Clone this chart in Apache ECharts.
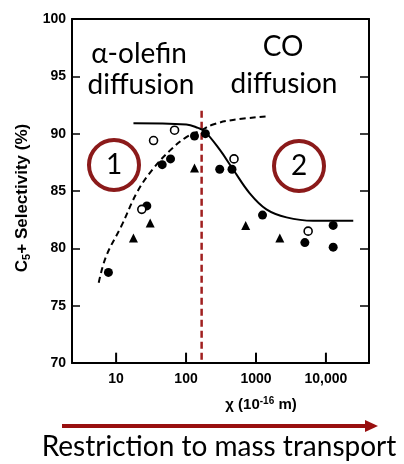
<!DOCTYPE html>
<html>
<head>
<meta charset="utf-8">
<script src="https://cdn.jsdelivr.net/npm/echarts@6/dist/echarts.min.js"></script>
<style>
  html, body { margin: 0; padding: 0; background: #fff; }
  #chart { width: 404px; height: 464px; }
</style>
</head>
<body>
<div id="chart"></div>
<script>
// C5+ selectivity versus the diffusion parameter chi (10^-16 m)
const filledPoints = [
  [7.76, 77.9], [27.5, 83.7], [45.6, 87.3], [60.0, 87.8], [132, 89.8], [189, 90.0],
  [303, 86.9], [454, 86.9], [1240, 82.9], [5000, 80.5], [12700, 82.0], [12700, 80.1]
];
const openPoints = [
  [23.3, 83.4], [34.3, 89.4], [68.5, 90.3], [485, 87.8], [5570, 81.5]
];
const trianglePoints = [
  [17.7, 80.9], [30.7, 82.2], [132, 87.0], [713, 82.0], [2190, 80.9]
];
// alpha-olefin diffusion trend (dashed)
const olefinCurve = [
  [5.64, 77.0], [7.19, 79.3], [11.8, 81.9], [20.4, 85.0], [33.5, 86.9], [58.1, 88.5],
  [101, 89.7], [165, 90.3], [243, 90.8], [469, 91.2], [1410, 91.5]
];
// CO diffusion trend (solid)
const coCurve = [
  [17.7, 90.9], [101, 90.8], [148, 90.5], [185, 90.2], [303, 88.6], [469, 86.9],
  [814, 84.8], [1410, 83.4], [2730, 82.7], [6580, 82.4], [24600, 82.4]
];
// regime boundary
const boundary = [[167, 92], [167, 70]];
const xTickValues = [10, 100, 1000, 10000];
const xTickLabels = { 10: '10', 100: '100', 1000: '1000', 10000: '10,000' };
const yMin = 70;
const tickReach = 0.9; // decade tick height, in axis units

const chart = echarts.init(document.getElementById('chart'), null, { renderer: 'canvas' });
const red = '#a01f1f';
const ring = '#8b1a1a';
const labelFont = 'Liberation Sans, Arial, sans-serif';
const textFont = 'Lato, Noto Sans, sans-serif';

// short vertical segments marking each decade on the bottom axis
const decadeTickSeries = xTickValues.map(v => ({
  type: 'line', data: [[v, yMin], [v, yMin + tickReach]], symbol: 'none', silent: true, z: 3,
  lineStyle: { color: '#000', width: 2 }
}));

chart.setOption({
  animation: false,
  grid: { left: 72, right: 35, top: 19, bottom: 101 },
  xAxis: [{
    type: 'log', logBase: 10, min: 2.34, max: 41300,
    axisLine: { lineStyle: { color: '#000', width: 2 } },
    axisTick: { show: false },
    axisLabel: {
      showMinLabel: false, showMaxLabel: false, margin: 9,
      color: '#000', fontFamily: labelFont, fontWeight: 'bold', fontSize: 14,
      formatter: v => xTickLabels[Math.round(v)] || ''
    },
    splitLine: { show: false }
  }, {
    type: 'log', logBase: 10, min: 2.34, max: 41300, position: 'top',
    axisLine: { lineStyle: { color: '#000', width: 2 } },
    axisTick: { show: false }, axisLabel: { show: false }, splitLine: { show: false }
  }],
  yAxis: [{
    type: 'value', min: yMin, max: 100, interval: 5,
    axisLine: { show: true, lineStyle: { color: '#000', width: 2 } },
    axisTick: { show: true, inside: true, length: 8, lineStyle: { color: '#000', width: 1.5 } },
    axisLabel: { color: '#000', fontFamily: labelFont, fontWeight: 'bold', fontSize: 14, margin: 6 },
    splitLine: { show: false }
  }, {
    type: 'value', min: yMin, max: 100, interval: 5, position: 'right',
    axisLine: { show: true, lineStyle: { color: '#000', width: 2 } },
    axisTick: { show: true, inside: true, length: 9, lineStyle: { color: '#000', width: 1.5 } },
    axisLabel: { show: false }, splitLine: { show: false }
  }],
  series: [
    {
      type: 'line', data: boundary, symbol: 'none', z: 1,
      lineStyle: { color: red, width: 2.5, type: [7, 4] }
    },
    {
      type: 'line', data: olefinCurve, smooth: 0.4, symbol: 'none',
      lineStyle: { color: '#000', width: 2, type: [6, 4] }
    },
    {
      type: 'line', data: coCurve, smooth: 0.4, symbol: 'none',
      lineStyle: { color: '#000', width: 2 }
    },
    {
      type: 'scatter', data: filledPoints, symbol: 'circle', symbolSize: 9,
      itemStyle: { color: '#000', opacity: 1 }
    },
    {
      type: 'scatter', data: openPoints, symbol: 'circle', symbolSize: 8,
      itemStyle: { color: '#fff', borderColor: '#000', borderWidth: 1.6, opacity: 1 }
    },
    {
      type: 'scatter', data: trianglePoints, symbol: 'triangle', symbolSize: 9,
      itemStyle: { color: '#000', opacity: 1 }
    }
  ].concat(decadeTickSeries),
  graphic: [
    // regime titles
    { type: 'text', x: 139, y: 54, style: { text: 'α-olefin', font: '28px ' + textFont, fill: '#000', textAlign: 'center', textVerticalAlign: 'middle' } },
    { type: 'text', x: 141, y: 85, style: { text: 'diffusion', font: '28px ' + textFont, fill: '#000', textAlign: 'center', textVerticalAlign: 'middle' } },
    { type: 'text', x: 283, y: 47, style: { text: 'CO', font: '28px ' + textFont, fill: '#000', textAlign: 'center', textVerticalAlign: 'middle' } },
    { type: 'text', x: 284, y: 84, style: { text: 'diffusion', font: '28px ' + textFont, fill: '#000', textAlign: 'center', textVerticalAlign: 'middle' } },
    // numbered regimes
    { type: 'circle', shape: { cx: 114, cy: 165, r: 25 }, style: { fill: 'none', stroke: ring, lineWidth: 4 } },
    { type: 'text', x: 114, y: 165, style: { text: '1', font: '28px ' + textFont, fill: '#000', textAlign: 'center', textVerticalAlign: 'middle' } },
    { type: 'circle', shape: { cx: 299, cy: 166, r: 25 }, style: { fill: 'none', stroke: ring, lineWidth: 4 } },
    { type: 'text', x: 299, y: 166, style: { text: '2', font: '28px ' + textFont, fill: '#000', textAlign: 'center', textVerticalAlign: 'middle' } },
    // axis titles
    {
      type: 'text', x: 261, y: 405,
      style: {
        text: '{a|χ (10}{s|-16}{a| m)}', fill: '#000', textAlign: 'center', textVerticalAlign: 'middle',
        rich: {
          a: { fontFamily: labelFont, fontWeight: 'bold', fontSize: 15, lineHeight: 17 },
          s: { fontFamily: labelFont, fontWeight: 'bold', fontSize: 10, lineHeight: 17, verticalAlign: 'top' }
        }
      }
    },
    {
      type: 'text', x: 22, y: 198, rotation: Math.PI / 2,
      style: {
        text: '{a|C}{s|5}{a|+ Selectivity (%)}', fill: '#000', textAlign: 'center', textVerticalAlign: 'middle',
        rich: {
          a: { fontFamily: labelFont, fontWeight: 'bold', fontSize: 17, lineHeight: 20 },
          s: { fontFamily: labelFont, fontWeight: 'bold', fontSize: 11, lineHeight: 13, verticalAlign: 'bottom' }
        }
      }
    },
    // transport arrow
    { type: 'line', shape: { x1: 62, y1: 426, x2: 367, y2: 426 }, style: { stroke: '#990f0f', lineWidth: 4 } },
    { type: 'polygon', shape: { points: [[365, 420], [378, 426], [365, 432]] }, style: { fill: '#990f0f' } },
    { type: 'text', x: 219, y: 447, style: { text: 'Restriction to mass transport', font: '28px ' + textFont, fill: '#000', textAlign: 'center', textVerticalAlign: 'middle' } }
  ]
});
</script>
</body>
</html>
